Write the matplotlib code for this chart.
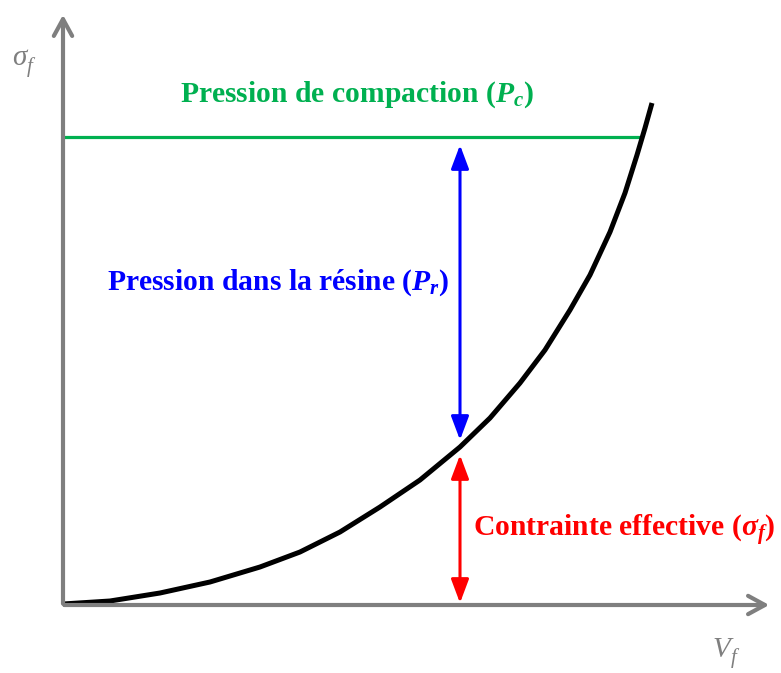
import matplotlib.pyplot as plt

plt.rcParams['mathtext.fontset'] = 'custom'
plt.rcParams['mathtext.rm'] = 'Liberation Serif:bold'
plt.rcParams['mathtext.it'] = 'Liberation Serif:italic:bold'
plt.rcParams['mathtext.bf'] = 'Liberation Serif:bold'

# courbe sigma_f = f(V_f) (unites arbitraires)
vf = [0.0, 0.47, 0.97, 1.47, 1.97, 2.37, 2.77, 3.17, 3.57, 3.97, 4.27,
      4.57, 4.82, 5.07, 5.27, 5.47, 5.62, 5.74, 5.82, 5.89]
sigma = [0.01, 0.04, 0.12, 0.23, 0.38, 0.53, 0.73, 0.98, 1.25, 1.58, 1.87,
         2.22, 2.55, 2.95, 3.30, 3.73, 4.12, 4.50, 4.77, 5.02]

p_c = 4.68          # pression de compaction
vf_point = 3.97     # abscisse des fleches
blue_span = (4.60, 1.65)
red_span = (1.50, 0.02)
vf_pc = 5.80        # intersection de la courbe avec P_c

grey = '#7f7f7f'
green = '#00b050'
blue = '#0000ff'
red = '#ff0000'

fig = plt.figure(figsize=(7.81, 6.73), dpi=100)
ax = fig.add_axes([0, 0, 1, 1])
ax.set_xlim(-0.63, 7.18)
ax.set_ylim(-0.68, 6.05)
ax.axis('off')

# axes avec fleches ouvertes
ax.annotate('', xy=(7.09, 0), xytext=(-0.015, 0),
            arrowprops=dict(arrowstyle='->,head_length=0.55,head_width=0.3',
                            color=grey, lw=3, mutation_scale=22))
ax.annotate('', xy=(0, 5.93), xytext=(0, -0.015),
            arrowprops=dict(arrowstyle='->,head_length=0.55,head_width=0.3',
                            color=grey, lw=3, mutation_scale=22))

# pression de compaction
ax.plot([0, vf_pc], [p_c, p_c], color=green, lw=2.3, solid_capstyle='butt')

# courbe
ax.plot(vf, sigma, color='black', lw=3.6, solid_capstyle='butt',
        solid_joinstyle='round')

# fleches
ax.annotate('', xy=(vf_point, blue_span[0]), xytext=(vf_point, blue_span[1]),
            arrowprops=dict(arrowstyle='<|-|>,head_length=0.8,head_width=0.3',
                            color=blue, lw=2.2, mutation_scale=18, shrinkA=0, shrinkB=0))
ax.annotate('', xy=(vf_point, red_span[0]), xytext=(vf_point, red_span[1]),
            arrowprops=dict(arrowstyle='<|-|>,head_length=0.8,head_width=0.3',
                            color=red, lw=2.2, mutation_scale=18, shrinkA=0, shrinkB=0))

serif = ['Liberation Serif', 'DejaVu Serif']
fs = 21.3
ax.text(2.94, 5.10, r'Pression de compaction ($P_c$)', color=green,
        fontsize=fs, fontweight='bold', family=serif, ha='center', va='center')
ax.text(0.44, 3.22, r'Pression dans la résine ($P_r$)', color=blue,
        fontsize=fs, fontweight='bold', family=serif, ha='left', va='center')
ax.text(4.10, 0.75, r'Contrainte effective ($\sigma_f$)', color=red,
        fontsize=fs, fontweight='bold', family=serif, ha='left', va='center')

# titres des axes (italique, non gras)
ax.text(-0.51, 5.47, 'σ', color=grey, fontsize=21, family=serif,
        style='italic', ha='left', va='center')
ax.text(-0.36, 5.38, 'f', color=grey, fontsize=15, family=serif,
        style='italic', ha='left', va='center')
ax.text(6.49, -0.45, 'V', color=grey, fontsize=21, family=serif,
        style='italic', ha='left', va='center')
ax.text(6.68, -0.53, 'f', color=grey, fontsize=15, family=serif,
        style='italic', ha='left', va='center')

fig.savefig('out.png', dpi=100)
